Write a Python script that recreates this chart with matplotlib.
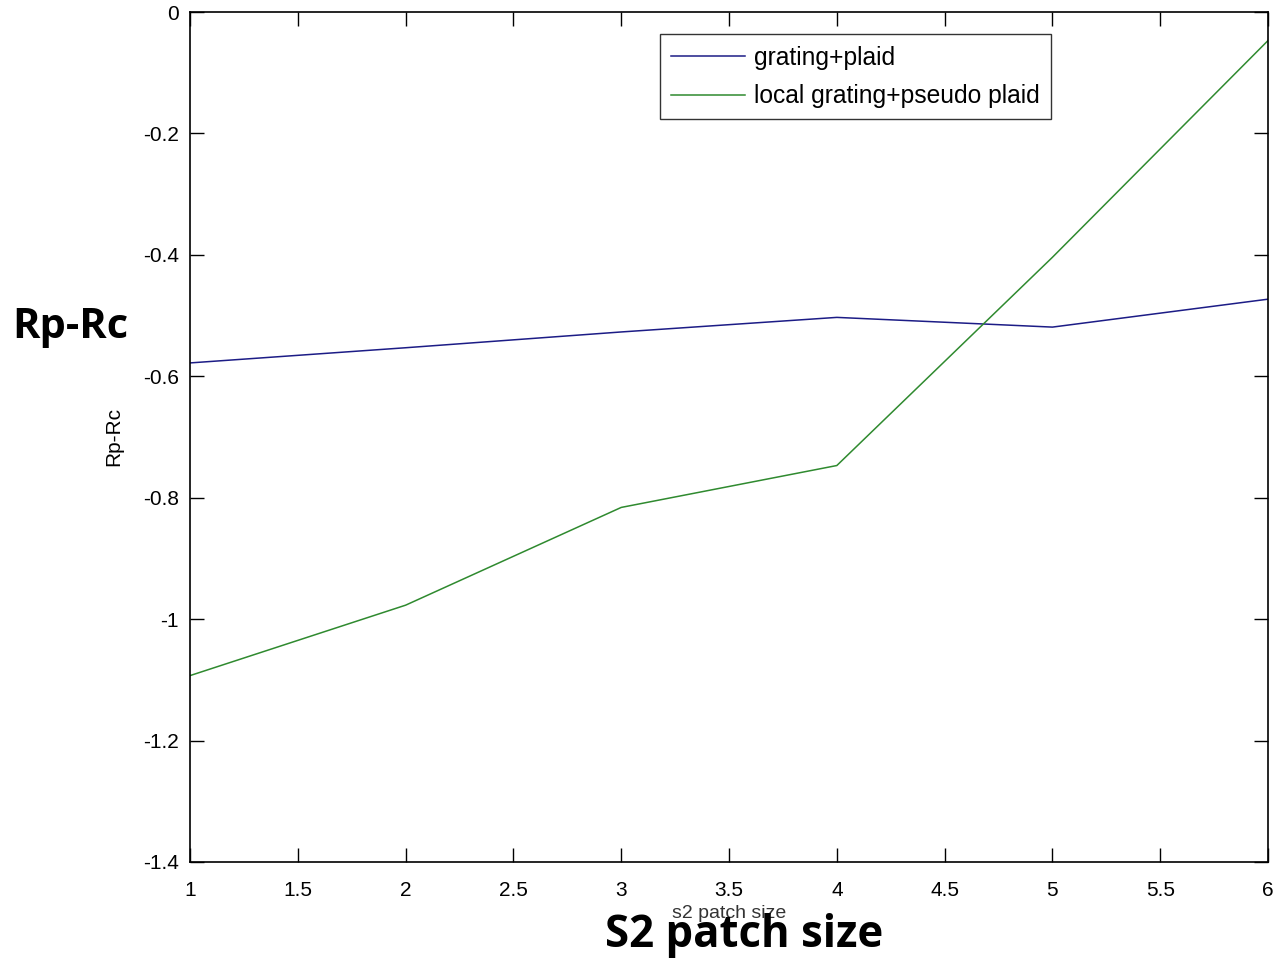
import numpy as np
import matplotlib.pyplot as plt

plt.rcParams['axes.unicode_minus'] = False
plt.rcParams['font.family'] = ['Liberation Sans', 'DejaVu Sans']

# data
patch_size = [1, 2, 3, 4, 5, 6]
grating_plaid = [-0.578, -0.553, -0.527, -0.503, -0.519, -0.473]
local_pseudo = [-1.093, -0.977, -0.816, -0.747, -0.404, -0.047]

x_ticks = [1, 1.5, 2, 2.5, 3, 3.5, 4, 4.5, 5, 5.5, 6]
y_ticks = [-1.4, -1.2, -1, -0.8, -0.6, -0.4, -0.2, 0]

fig = plt.figure(figsize=(12.78, 9.6), dpi=100)
ax = fig.add_axes([0.1487, 0.1021, 0.8435, 0.8854])

ax.plot(patch_size, grating_plaid, color='#1c1c86', lw=1.1, label='grating+plaid')
ax.plot(patch_size, local_pseudo, color='#2f8a2f', lw=1.1, label='local grating+pseudo plaid')

ax.set_xlim(1, 6)
ax.set_ylim(-1.4, 0)
ax.set_xticks(x_ticks)
ax.set_yticks(y_ticks)
ax.set_xticklabels(['%g' % v for v in x_ticks])
ax.set_yticklabels(['%g' % v for v in y_ticks])
ax.tick_params(direction='in', length=10, width=1, top=True, right=True,
               labelsize=15)
ax.tick_params(axis='x', pad=14)
ax.tick_params(axis='y', pad=8)
for s in ax.spines.values():
    s.set_linewidth(1.2)

ax.set_xlabel('s2 patch size', fontsize=14, labelpad=3, color='#333333')
ax.set_ylabel('Rp-Rc', fontsize=15, labelpad=14)

leg = ax.legend(loc='upper left', bbox_to_anchor=(0.4244, 0.988), fontsize=17.7,
                frameon=True, fancybox=False, handlelength=3.0,
                borderpad=0.45, labelspacing=0.6, handletextpad=0.4)
leg.get_frame().set_edgecolor('black')
leg.get_frame().set_linewidth(1.0)

# big bold overlay labels
fig.text(70 / 1278, 1 - 327 / 960, 'Rp-Rc', fontsize=30, fontweight='bold',
         family='Open Sans', ha='center', va='center')
fig.text(744 / 1278, 1 - 936 / 960, 'S2 patch size', fontsize=31.5, fontweight='bold',
         family='Open Sans', ha='center', va='center')

plt.savefig('out.png', dpi=100)
